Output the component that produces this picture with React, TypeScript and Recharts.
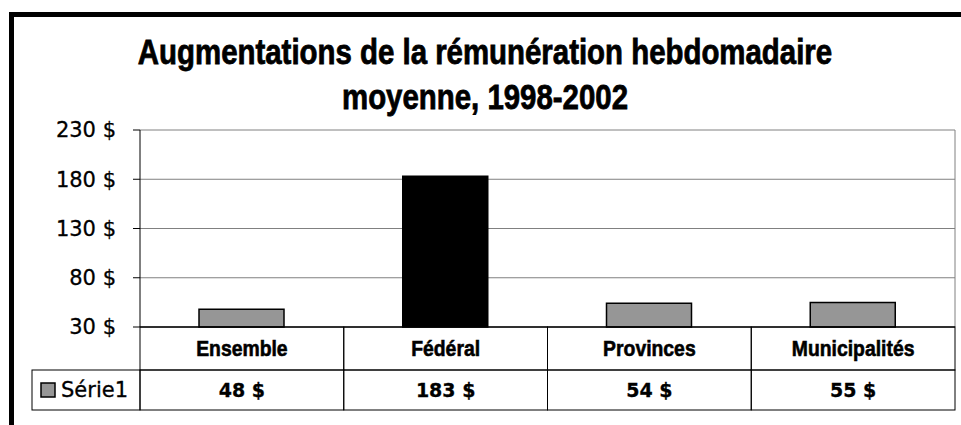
import { BarChart, Bar, XAxis, YAxis, CartesianGrid, Cell, ReferenceLine } from 'recharts';

const categories = ['Ensemble', 'Fédéral', 'Provinces', 'Municipalités'];
const values = [48, 183, 54, 55];
const yTicks = [30, 80, 130, 180, 230];
const seriesName = 'Série1';
const titleLines = ['Augmentations de la rémunération hebdomadaire', 'moyenne, 1998-2002'];

const barFills = ['#969696', '#000000', '#969696', '#969696'];

const W = 961;
const H = 425;
const PLOT_LEFT = 140;
const PLOT_RIGHT = 955;
const ROW1 = 43;
const ROW2 = 40;
const LEGEND_LEFT = 32;

// no condensed font installed: squeeze Liberation Sans Bold horizontally
const NARROW = '"Liberation Sans", Arial, sans-serif';
const WIDE = '"DejaVu Sans", Verdana, sans-serif';

const data = categories.map((name, i) => ({ name, value: values[i] }));

const TableTick = (props: any) => {
  const { x, y, index, payload } = props;
  const bw = (PLOT_RIGHT - PLOT_LEFT) / categories.length;
  const left = x - bw / 2;
  return (
    <g>
      <rect x={left} y={y} width={bw} height={ROW1} fill="none" stroke="#000" strokeWidth={1} />
      <text
        transform={`translate(${x} ${y + ROW1 / 2}) scale(0.88 1)`}
        x={0}
        y={0}
        textAnchor="middle"
        dominantBaseline="central"
        fontFamily={NARROW}
        fontWeight="bold"
        fontSize={22}
        fill="#000"
        stroke="#000"
        strokeWidth={0.6}
      >
        {payload.value}
      </text>
      <rect x={left} y={y + ROW1} width={bw} height={ROW2} fill="none" stroke="#000" strokeWidth={1} />
      <text
        x={x}
        y={y + ROW1 + ROW2 / 2}
        textAnchor="middle"
        dominantBaseline="central"
        fontFamily={WIDE}
        fontWeight="bold"
        fontSize={19}
        fill="#000"
        stroke="#000"
        strokeWidth={0.3}
      >
        {`${values[index]} $`}
      </text>
      {index === 0 && (
        <g>
          <rect
            x={LEGEND_LEFT}
            y={y + ROW1}
            width={left - LEGEND_LEFT}
            height={ROW2}
            fill="none"
            stroke="#000"
            strokeWidth={1}
          />
          <rect x={LEGEND_LEFT + 9} y={y + ROW1 + 13} width={14} height={14} fill={barFills[0]} stroke="#000" strokeWidth={1.5} />
          <text
            x={LEGEND_LEFT + 29}
            y={y + ROW1 + ROW2 / 2}
            dominantBaseline="central"
            fontFamily={WIDE}
            fontSize={21}
            fill="#000"
            stroke="#000"
            strokeWidth={0.3}
          >
            {seriesName}
          </text>
        </g>
      )}
    </g>
  );
};

const App = () => {
  return (
    <div style={{ position: 'absolute', left: 0, top: 0, width: W, height: H, background: '#fff' }}>
      <div
        style={{
          position: 'absolute',
          left: 9,
          top: 12,
          width: W - 9,
          height: H - 12,
          borderTop: '5px solid #000',
          borderLeft: '5px solid #000',
          boxSizing: 'border-box',
        }}
      />
      <div
        style={{
          position: 'absolute',
          left: 9,
          top: 29,
          width: W - 9,
          textAlign: 'center',
          fontFamily: NARROW,
          fontWeight: 'bold',
          fontSize: 35,
          lineHeight: '45px',
          color: '#000',
          WebkitTextStroke: '0.8px #000',
        }}
      >
        {titleLines.map((t) => (
          <div key={t} style={{ transform: 'scaleX(0.84)' }}>
            {t}
          </div>
        ))}
      </div>
      <div style={{ position: 'absolute', left: 0, top: 0 }}>
        <BarChart
          width={W}
          height={H}
          data={data}
          margin={{ top: 130, right: W - PLOT_RIGHT, bottom: H - 327 - ROW1 - ROW2, left: 0 }}
          barSize={85}
        >
          <CartesianGrid vertical={false} stroke="#808080" strokeWidth={1} />
          <XAxis
            dataKey="name"
            height={ROW1 + ROW2}
            interval={0}
            axisLine={{ stroke: '#000', strokeWidth: 1 }}
            tickLine={false}
            tickSize={0}
            tickMargin={0}
            tick={<TableTick />}
          />
          <YAxis
            width={PLOT_LEFT}
            domain={[30, 230]}
            ticks={yTicks}
            interval={0}
            tickFormatter={(v: number) => `${v} $`}
            axisLine={{ stroke: '#000', strokeWidth: 1 }}
            tickLine={{ stroke: '#000' }}
            tickSize={7}
            tickMargin={17}
            tick={{ fontFamily: WIDE, fontSize: 21, fill: '#000', stroke: '#000', strokeWidth: 0.3 }}
          />
          <ReferenceLine x={categories[categories.length - 1]} position="end" stroke="#808080" strokeWidth={1} />
          <Bar dataKey="value" stroke="#000" strokeWidth={1.5} isAnimationActive={false}>
            {data.map((d, i) => (
              <Cell key={d.name} fill={barFills[i]} />
            ))}
          </Bar>
        </BarChart>
      </div>
    </div>
  );
};

export default App;
